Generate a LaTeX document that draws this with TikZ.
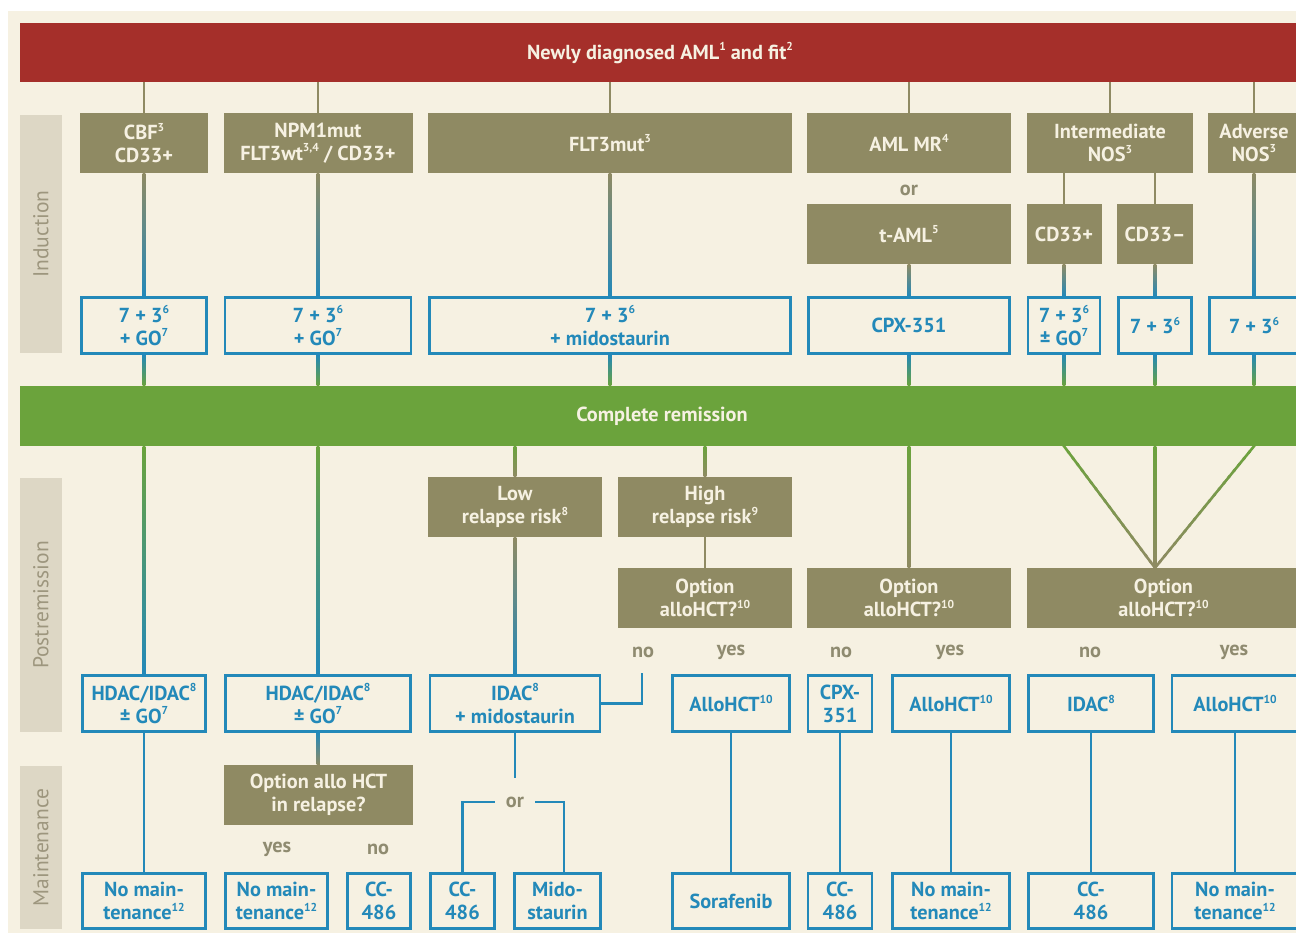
\documentclass[tikz,border=0pt]{standalone}
\usepackage{fontspec}
\setmainfont{PT Sans}
\usetikzlibrary{calc}
\definecolor{bgc}{HTML}{F6F1E2}
\definecolor{redc}{HTML}{A52F2A}
\definecolor{olc}{HTML}{8F8A63}
\definecolor{blc}{HTML}{2389B9}
\definecolor{grc}{HTML}{6BA33C}
\definecolor{sbc}{HTML}{DDD7C5}
\definecolor{sbt}{HTML}{9D967E}
\definecolor{labc}{HTML}{8F8B70}
\newcommand\su[1]{\raisebox{0.42em}{\fontsize{11.5}{11.5}\selectfont #1}}
% vertical gradient connector: #1 top colour, #2 bottom colour, #3 top point, #4 bottom point
\newcommand\vgline[4]{%
  \shade[top color=#1, bottom color=#2] ($#3+(-1.3,0)$) rectangle ($#4+(1.3,0)$);}
% slanted gradient connector in pieces
\newcommand\gline[4]{%
  \foreach \k in {0,...,19}{%
    \pgfmathsetmacro\ta{\k/20}%
    \pgfmathsetmacro\tb{(\k+1)/20}%
    \pgfmathsetmacro\pc{97.5-5*\k}%
    \draw[conn, draw=#1!\pc!#2] ($#3!\ta!#4$) -- ($#3!\tb!#4$);
  }}
\begin{document}
\begin{tikzpicture}[x=1pt,y=-1pt,
  txt/.style={font=\fontsize{20.3}{23}\selectfont\bfseries, align=center, inner sep=0pt},
  obox/.style={txt, fill=olc, text=bgc, minimum height=60pt},
  bbox/.style={txt, draw=blc, line width=2.8pt, fill=bgc, text=blc, minimum height=56pt},
  conn/.style={line width=2.6pt, line cap=rect},
  lab/.style={txt, text=labc},
  sidebox/.style={fill=sbc, inner sep=0pt, minimum width=42pt},
  sidetext/.style={font=\fontsize{21.5}{24}\selectfont, text=sbt, rotate=90}
]
\useasboundingbox (0,0) rectangle (1296,935);
\clip (0,0) rectangle (1296,935);
\fill[white] (0,0) rectangle (1296,935);
\fill[bgc] (8,11) rectangle (1300,933);

% side labels
\node[sidebox, minimum height=238pt] (sind) at (41,234) {};
\node[sidetext] at (sind) {Induction};
\node[sidebox, minimum height=254pt] (spost) at (41,605) {};
\node[sidetext] at (spost) {Postremission};
\node[sidebox, minimum height=163pt] (smain) at (41,847.5) {};
\node[sidetext] at (smain) {Maintenance};

% bars
\node[txt, fill=redc, text=bgc, minimum width=1280pt, minimum height=59pt] (red) at (660,52.5) {};
\node[txt, text=bgc] at (660,53) {Newly diagnosed AML\su{1} and fit\su{2}};
\node[txt, fill=grc, text=bgc, minimum width=1280pt, minimum height=60pt] (green) at (660,416) {};
\node[txt, text=bgc] at (662,416) {Complete remission};

% induction: subgroup boxes
\node[obox, minimum width=128pt] (cbf) at (144,143) {CBF\su{3}\\CD33+};
\node[obox, minimum width=189pt] (npm) at (318,143) {NPM1mut\\FLT3wt\su{3,4} / CD33+};
\node[obox, minimum width=364pt] (flt) at (610,143) {FLT3mut\su{3}};
\node[obox, minimum width=204pt] (amlmr) at (909,143) {AML MR\su{4}};
\node[obox, minimum width=166pt] (inter) at (1110,143) {Intermediate\\NOS\su{3}};
\node[obox, minimum width=92pt] (adv) at (1254,143) {Adverse\\NOS\su{3}};
\node[lab] (or1) at (909,190) {or};
\node[obox, minimum width=204pt] (taml) at (909,234) {t-AML\su{5}};
\node[obox, minimum width=75pt] (cdp) at (1064,234) {CD33+};
\node[obox, minimum width=76pt] (cdm) at (1155,234) {CD33–};

% induction: therapy boxes
\node[bbox, minimum width=125pt] (i1) at (144,325.5) {7 + 3\su{6}\\+ GO\su{7}};
\node[bbox, minimum width=186pt] (i2) at (318,325.5) {7 + 3\su{6}\\+ GO\su{7}};
\node[bbox, minimum width=361pt] (i3) at (610,325.5) {7 + 3\su{6}\\+ midostaurin};
\node[bbox, minimum width=201pt] (i4) at (909,325.5) {CPX-351};
\node[bbox, minimum width=72pt] (i5) at (1064,325.5) {7 + 3\su{6}\\± GO\su{7}};
\node[bbox, minimum width=73pt] (i6) at (1155,325.5) {7 + 3\su{6}};
\node[bbox, minimum width=89pt] (i7) at (1254,325.5) {7 + 3\su{6}};

% postremission: decision boxes
\node[obox, minimum width=174pt] (low) at (515,507) {Low\\relapse risk\su{8}};
\node[obox, minimum width=174pt] (high) at (705,507) {High\\relapse risk\su{9}};
\node[obox, minimum width=174pt] (opth) at (705,598) {Option\\alloHCT?\su{10}};
\node[obox, minimum width=204pt] (optm) at (909,598) {Option\\alloHCT?\su{10}};
\node[obox, minimum width=273pt] (optr) at (1163.5,598) {Option\\alloHCT?\su{10}};
\coordinate (vtip) at (optr.north -| cdm);

\node[lab] at (643,652) {no};
\node[lab] at (731,652) {yes};
\node[lab] at (841,652) {no};
\node[lab] at (950,652) {yes};
\node[lab] at (1090,652) {no};
\node[lab] at (1234,652) {yes};

% postremission: therapy boxes
\node[bbox, minimum width=123pt] (p1) at (144,703.5) {HDAC/IDAC\su{8}\\± GO\su{7}};
\node[bbox, minimum width=185pt] (p2) at (318,703.5) {HDAC/IDAC\su{8}\\± GO\su{7}};
\node[bbox, minimum width=170pt] (p3) at (515,703.5) {IDAC\su{8}\\+ midostaurin};
\node[bbox, minimum width=117pt] (p4) at (731,703.5) {AlloHCT\su{10}};
\node[bbox, minimum width=64pt] (p5) at (840,703.5) {CPX-\\351};
\node[bbox, minimum width=117pt] (p6) at (951,703.5) {AlloHCT\su{10}};
\node[bbox, minimum width=125pt] (p7) at (1091,703.5) {IDAC\su{8}};
\node[bbox, minimum width=126pt] (p8) at (1235,703.5) {AlloHCT\su{10}};

% maintenance
\node[obox, minimum width=189pt] (rel) at (318.5,795) {Option allo HCT\\in relapse?};
\node[lab] at (277,849) {yes};
\node[lab] at (378,849) {no};
\node[lab] (or2) at (515,802) {or};

\node[bbox, minimum width=123pt, minimum height=55pt] (m1) at (144,901) {No main-\\tenance\su{12}};
\node[bbox, minimum width=102pt, minimum height=55pt] (m2) at (276.5,901) {No main-\\tenance\su{12}};
\node[bbox, minimum width=63pt, minimum height=55pt] (m3) at (379,901) {CC-\\486};
\node[bbox, minimum width=64pt, minimum height=55pt] (m4) at (462.5,901) {CC-\\486};
\node[bbox, minimum width=86pt, minimum height=55pt] (m5) at (557.5,901) {Mido-\\staurin};
\node[bbox, minimum width=117pt, minimum height=55pt] (m6) at (731,901) {Sorafenib};
\node[bbox, minimum width=64pt, minimum height=55pt] (m7) at (840,901) {CC-\\486};
\node[bbox, minimum width=117pt, minimum height=55pt] (m8) at (951,901) {No main-\\tenance\su{12}};
\node[bbox, minimum width=125pt, minimum height=55pt] (m9) at (1091,901) {CC-\\486};
\node[bbox, minimum width=126pt, minimum height=55pt] (m10) at (1235,901) {No main-\\tenance\su{12}};

% connectors: red bar to subgroups
\foreach \n in {cbf,npm,flt,amlmr,inter,adv}
  \draw[conn, olc, line cap=butt] (red.south -| \n) -- (\n.north);
\draw[conn, olc, line cap=butt] (inter.south -| cdp) -- (cdp.north);
\draw[conn, olc, line cap=butt] (inter.south -| cdm) -- (cdm.north);
% subgroups to induction therapy
\vgline{olc}{blc}{(cbf.south)}{(i1.north)}
\vgline{olc}{blc}{(npm.south)}{(i2.north)}
\vgline{olc}{blc}{(flt.south)}{(i3.north)}
\vgline{olc}{blc}{(taml.south)}{(i4.north)}
\vgline{olc}{blc}{(cdp.south)}{(i5.north)}
\vgline{olc}{blc}{(cdm.south)}{(i6.north)}
\vgline{olc}{blc}{(adv.south -| i7)}{(i7.north)}
% induction therapy to complete remission
\foreach \n in {i1,i2,i3,i4,i5,i6,i7}{
  \vgline{blc}{grc}{(\n.south)}{(green.north -| \n)}
}
% complete remission to postremission
\vgline{grc}{blc}{(green.south -| p1)}{(p1.north)}
\vgline{grc}{blc}{(green.south -| p2)}{(p2.north)}
\vgline{grc}{olc}{(green.south -| low)}{(low.north)}
\vgline{grc}{olc}{(green.south -| high)}{(high.north)}
\vgline{grc}{olc}{(green.south -| optm)}{(optm.north)}
\gline{grc}{olc}{(green.south -| i5)}{(vtip)}
\vgline{grc}{olc}{(green.south -| i6)}{(vtip)}
\gline{grc}{olc}{(green.south -| i7)}{(vtip)}
\draw[conn, olc, line cap=butt] (high.south) -- (opth.north);
\vgline{olc}{blc}{(low.south)}{(p3.north)}
\coordinate (nob) at (642,673);
\draw[conn, blc, line cap=butt] (p3.east) -| (nob);
% postremission to maintenance
\draw[conn, blc, line cap=butt] (p1.south) -- (m1.north);
\vgline{blc}{olc}{(p2.south)}{(rel.north)}
\coordinate (ort) at (515,778);
\draw[conn, blc, line cap=butt] (p3.south) -- (ort);
\coordinate (orL) at ($(or2.west)+(-11,0)$);
\coordinate (orR) at ($(or2.east)+(11,0)$);
\draw[conn, blc, line cap=butt] (orL) -| (m4.north);
\draw[conn, blc, line cap=butt] (orR) -| ($(m5.north)+(6.5,0)$);
\draw[conn, blc, line cap=butt] (p4.south) -- (m6.north);
\draw[conn, blc, line cap=butt] (p5.south) -- (m7.north);
\draw[conn, blc, line cap=butt] (p6.south) -- (m8.north);
\draw[conn, blc, line cap=butt] (p7.south) -- (m9.north);
\draw[conn, blc, line cap=butt] (p8.south) -- (m10.north);
\end{tikzpicture}
\end{document}
